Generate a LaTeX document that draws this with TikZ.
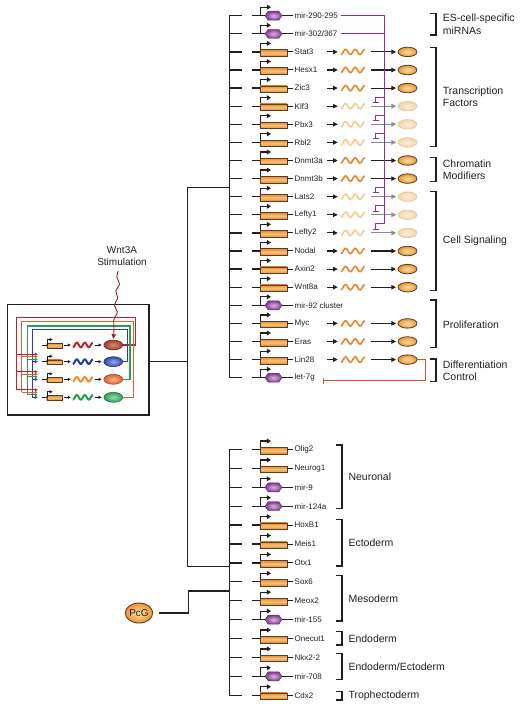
\documentclass[tikz,border=0pt]{standalone}
\usepackage{fontspec}
\setmainfont{Liberation Sans}
\usetikzlibrary{arrows.meta,shapes.symbols,shapes.geometric}

\definecolor{ink}{HTML}{231F20}
\definecolor{gOr}{HTML}{E98A2C}
\definecolor{gOrL}{HTML}{F9C27A}
\definecolor{gEdge}{HTML}{5A3E22}
\definecolor{mirP}{HTML}{7E3A8E}
\definecolor{mirPL}{HTML}{D9B6E2}
\definecolor{mirLine}{HTML}{A8287E}
\definecolor{waveOr}{HTML}{E8842A}
\definecolor{wavePale}{HTML}{F5C994}
\definecolor{protOr}{HTML}{EB9330}
\definecolor{protOrL}{HTML}{FDE2A8}
\definecolor{protEdge}{HTML}{55412F}
\definecolor{paleFill}{HTML}{F5D3A6}
\definecolor{paleFillL}{HTML}{FCF0DC}
\definecolor{paleEdge}{HTML}{E3C49C}
\definecolor{grayArr}{HTML}{8C8C8C}
\definecolor{inhRed}{HTML}{E8462A}
\definecolor{wRed}{HTML}{B02828}
\definecolor{wBlue}{HTML}{2838A0}
\definecolor{wOr}{HTML}{E8922A}
\definecolor{wGreen}{HTML}{1FA048}
\definecolor{eRed}{HTML}{9E3B2C}
\definecolor{eRedL}{HTML}{DD8A78}
\definecolor{eBlue}{HTML}{2B4BA8}
\definecolor{eBlueL}{HTML}{9AAAE8}
\definecolor{eOr}{HTML}{D9622B}
\definecolor{eOrL}{HTML}{F6B090}
\definecolor{eGreen}{HTML}{2E9E5A}
\definecolor{eGreenL}{HTML}{98DCB0}
\definecolor{lRed}{HTML}{BE1E2D}
\definecolor{lOr}{HTML}{EF5A2A}
\definecolor{lGreen}{HTML}{22A24B}
\definecolor{lBlue}{HTML}{393B97}
\definecolor{squig}{HTML}{9B1F24}

\begin{document}
\begin{tikzpicture}[x=1pt,y=-1pt,
  tree/.style={draw=ink, line width=1.3pt},
  genebox/.style={rectangle, draw=gEdge, line width=0.5pt, top color=gOr, bottom color=gOr, middle color=gOrL, minimum width=27pt, minimum height=6.5pt, inner sep=0},
  mirhex/.style={signal, signal to=east and west, signal pointer angle=110, draw=mirP!75!black, line width=0.4pt, inner color=mirPL, outer color=mirP, minimum width=17pt, minimum height=9pt, inner sep=0},
  wavebox/.style={minimum width=24pt, minimum height=7pt, inner sep=0},
  swavebox/.style={minimum width=20pt, minimum height=7pt, inner sep=0},
  protein/.style={ellipse, draw=protEdge, line width=0.8pt, inner color=protOrL, outer color=protOr, minimum width=19pt, minimum height=9.5pt, inner sep=0},
  paleprot/.style={ellipse, draw=paleEdge, line width=0.6pt, inner color=paleFillL, outer color=paleFill, minimum width=19pt, minimum height=9.5pt, inner sep=0},
  glabel/.style={font=\fontsize{8}{9.6}\selectfont, text=ink, inner sep=0, anchor=west},
  blabel/.style={font=\fontsize{10.5}{12.4}\selectfont, text=ink, inner sep=0, anchor=west, align=left},
  arr/.style={draw=ink, line width=1.1pt, -{Triangle[length=4.8pt,width=4.5pt]}},
  grayarr/.style={draw=grayArr, line width=1.1pt, -{Triangle[length=4.8pt,width=4.5pt]}},
  prom/.style={draw=ink, line width=1.2pt, -{Triangle[length=4.2pt,width=4.8pt]}},
  bracket/.style={draw=ink, line width=1.2pt},
  mirline/.style={draw=mirLine, line width=1pt},
  hook/.style={draw=mirLine, line width=1pt, -{Bar[width=6pt,line width=1pt]}},
  inh/.style={draw=inhRed, line width=1.1pt, -{Bar[width=6pt,line width=1.1pt]}},
  smallbox/.style={rectangle, draw=gEdge, line width=0.4pt, top color=gOr, bottom color=gOr, middle color=gOrL, minimum width=15pt, minimum height=4.5pt, inner sep=0},
  smallarr/.style={draw=ink, line width=0.7pt, -{Triangle[length=3pt,width=3pt]}},
  smallprom/.style={draw=ink, line width=0.8pt, -{Triangle[length=3pt,width=3pt]}},
  loopline/.style={line width=1.1pt},
  looparr/.style={line width=1.1pt, -{Triangle[length=3pt,width=3pt]}},
]
\useasboundingbox (0,0) rectangle (521,708);

% ---------------- all gene rows ----------------
\foreach \n/\y/\lab in {mirA/15.7/mir-290-295, mirB/33.8/{mir-302{/}367}, Stat3/51.9/Stat3, Hesx1/70.0/Hesx1, Zic3/88.1/Zic3, Klf3/106.2/Klf3, Pbx3/124.3/Pbx3, Rbl2/142.4/Rbl2, Dnmt3a/160.5/Dnmt3a, Dnmt3b/178.6/Dnmt3b, Lats2/196.7/Lats2, Lefty1/214.8/Lefty1, Lefty2/232.9/Lefty2, Nodal/251.0/Nodal, Axin2/269.1/Axin2, Wnt8a/287.2/Wnt8a, mirC/305.3/mir-92 cluster, Myc/323.4/Myc, Eras/341.5/Eras, Lin28/359.6/Lin28, let7g/377.7/let-7g,
  Olig2/449.5/Olig2, Neurog1/468.4/Neurog1, mir9/487.3/mir-9, mir124a/506.2/mir-124a, HoxB1/525.1/HoxB1, Meis1/544.0/Meis1, Otx1/562.9/Otx1, Sox6/581.8/Sox6, Meox2/600.7/Meox2, mir155/619.6/mir-155, Onecut1/638.5/Onecut1, Nkx22/657.4/Nkx2-2, mir708/676.3/mir-708, Cdx2/695.2/Cdx2}{
  \coordinate (\n-b) at (229.3,\y);
  \coordinate (\n-k) at (242,\y);
  \coordinate (\n-s) at (252,\y);
  \node[glabel] (\n-l) at (294.5,\y) {\lab};
  \draw[tree] (\n-b) -- (\n-k);
  \draw[prom] (\n-s) ++(8.5,0) -- ++(0,-8.5) -- ++(10.5,0);
}

% gene boxes
\foreach \n/\y in {Stat3/51.9, Hesx1/70.0, Zic3/88.1, Klf3/106.2, Pbx3/124.3, Rbl2/142.4, Dnmt3a/160.5, Dnmt3b/178.6, Lats2/196.7, Lefty1/214.8, Lefty2/232.9, Nodal/251.0, Axin2/269.1, Wnt8a/287.2, Myc/323.4, Eras/341.5, Lin28/359.6,
  Olig2/449.5, Neurog1/468.4, HoxB1/525.1, Meis1/544.0, Otx1/562.9, Sox6/581.8, Meox2/600.7, Onecut1/638.5, Nkx22/657.4, Cdx2/695.2}{
  \node[genebox] (\n-g) at (273.5,\y+1) {};
  \draw[tree] (\n-s) -- (\n-g.west |- \n-s);
  \draw[tree, line width=1pt, shorten >=1.5pt] (\n-g.east |- \n-s) -- (\n-l.west);
}

% microRNA hexagons
\foreach \n/\y in {mirA/15.7, mirB/33.8, mirC/305.3, let7g/377.7, mir9/487.3, mir124a/506.2, mir155/619.6, mir708/676.3}{
  \node[mirhex] (\n-g) at (273.5,\y) {};
  \draw[tree] (\n-s) -- (\n-g.west);
  \draw[tree, line width=1pt, shorten >=1.5pt] (\n-g.east) -- (\n-l.west);
}

% active expression chains
\foreach \n/\y in {Stat3/51.9, Hesx1/70.0, Zic3/88.1, Dnmt3a/160.5, Dnmt3b/178.6, Nodal/251.0, Axin2/269.1, Wnt8a/287.2, Myc/323.4, Eras/341.5, Lin28/359.6}{
  \coordinate (\n-a) at (327,\y);
  \node[wavebox] (\n-w) at (353,\y) {};
  \draw[waveOr, line width=1.6pt, shift={(\n-w.west)}] plot[domain=0:24, samples=49, smooth] (\x,{2.6*cos(\x*37.5)});
  \node[protein] (\n-p) at (407.5,\y) {};
  \draw[arr, shorten >=3pt] (\n-a) -- (\n-w);
  \draw[arr, shorten <=6pt, shorten >=1.5pt] (\n-w) -- (\n-p);
}

% repressed expression chains
\foreach \n/\y in {Klf3/106.2, Pbx3/124.3, Rbl2/142.4, Lats2/196.7, Lefty1/214.8, Lefty2/232.9}{
  \coordinate (\n-a) at (327,\y);
  \node[wavebox] (\n-w) at (353,\y) {};
  \draw[wavePale, line width=1.6pt, shift={(\n-w.west)}] plot[domain=0:24, samples=49, smooth] (\x,{2.6*cos(\x*37.5)});
  \node[paleprot] (\n-p) at (407.5,\y) {};
  \draw[arr, shorten >=3pt] (\n-a) -- (\n-w);
  \draw[grayarr, shorten <=6pt, shorten >=1.5pt] (\n-w) -- (\n-p);
  \coordinate (\n-h) at (384,\y-9);
  \draw[hook] (\n-h) -- ++(-8.5,0) -- ++(0,5.8);
}

% miRNA repression lines
\coordinate (mvtop) at (384,15.7);
\coordinate (mvbot) at (384,223.9);
\draw[mirline, shorten <=3pt] (mirA-l.east) -- (mvtop) -- (mvbot);
\draw[mirline, shorten <=3pt] (mirB-l.east) -- (mirB-l.east -| mvtop);

% Lin28 -| let-7g
\coordinate (letinh) at (323.3,380.5);
\draw[inh] (Lin28-p.east) -- ++(8.5,0) |- (letinh);

% ---------------- buses and tree ----------------
\draw[tree] (mirA-b) -- (let7g-b);
\draw[tree] (Olig2-b) -- (Cdx2-b);
\coordinate (tjoin) at (229.3,187.7);
\coordinate (ctop) at (187.7,187.7);
\coordinate (cmid) at (187.7,361.7);
\coordinate (cbot) at (187.7,566.7);
\coordinate (bjoin) at (229.3,566.7);
\draw[tree] (tjoin) -- (ctop) -- (cbot) -- (bjoin);

% ---------------- PcG ----------------
\node[ellipse, draw=protEdge, line width=0.9pt, inner color=protOrL, outer color=protOr, minimum width=26pt, minimum height=20pt, inner sep=0, font=\fontsize{10}{12}\selectfont, text=ink] (pcg) at (139,613) {PcG};
\coordinate (p1) at (188.3,613);
\coordinate (p2) at (188.3,591);
\coordinate (p3) at (229.3,591);
\draw[tree, shorten <=6pt] (pcg.east) -- (p1) -- (p2) -- (p3);

% ---------------- brackets ----------------
\foreach \t/\b in {13.3/35, 47.7/146.7, 157.5/181.5, 191.7/290.7, 300/347.3, 359/381.7}{
  \draw[bracket] (430,\t) -- (436,\t) -- (436,\b) -- (430,\b);
}
\node[blabel] (bES) at (442.7,24.3) {ES-cell-specific\\miRNAs};
\node[blabel] (bTF) at (442.7,96.5) {Transcription\\Factors};
\node[blabel] (bCM) at (442.7,169.5) {Chromatin\\Modifiers};
\node[blabel] (bCS) at (442.7,241.2) {Cell Signaling};
\node[blabel] (bPR) at (442.7,324.5) {Proliferation};
\node[blabel] (bDC) at (442.7,371) {Differentiation\\Control};

\foreach \t/\b in {445/508.3, 519.3/566, 575.7/621, 631.7/645, 653.3/679.3, 691.7/700}{
  \draw[bracket] (336,\t) -- (342,\t) -- (342,\b) -- (336,\b);
}
\node[blabel] (bNE) at (348.3,476.7) {Neuronal};
\node[blabel] (bEC) at (348.3,542.7) {Ectoderm};
\node[blabel] (bME) at (348.3,598.4) {Mesoderm};
\node[blabel] (bEN) at (348.3,638.4) {Endoderm};
\node[blabel] (bEE) at (348.3,666.3) {Endoderm/Ectoderm};
\node[blabel] (bTR) at (348.3,695.9) {Trophectoderm};

% ---------------- inset ----------------
\node[draw=ink, line width=1.3pt, minimum width=141.7pt, minimum height=110.7pt, inner sep=0] (inset) at (78.15,359.65) {};
\draw[tree] (inset.east |- cmid) -- (cmid);

\foreach \n/\y/\wc/\ec/\el in {r1/345/wRed/eRed/eRedL, r2/361.7/wBlue/eBlue/eBlueL, r3/379.3/wOr/eOr/eOrL, r4/397.3/wGreen/eGreen/eGreenL}{
  \coordinate (\n-s) at (41.7,\y);
  \node[smallbox] (\n-g) at (54.2,\y+0.5) {};
  \draw[draw=ink, line width=0.8pt] (\n-s) -- (\n-g.west |- \n-s);
  \draw[smallprom] (\n-s) ++(5.5,0) -- ++(0,-5.5) -- ++(5.5,0);
  \coordinate (\n-a) at (63.5,\y);
  \node[swavebox] (\n-w) at (83,\y) {};
  \draw[\wc, line width=2pt, shift={(\n-w.west)}] plot[domain=0:20, samples=41, smooth] (\x,{2.3*cos(\x*45)});
  \node[ellipse, draw=\ec!70!black, line width=0.5pt, inner color=\el, outer color=\ec, minimum width=19pt, minimum height=10pt, inner sep=0] (\n-e) at (113.3,\y) {};
  \draw[smallarr, shorten >=2pt] (\n-a) -- (\n-w);
  \draw[smallarr, shorten <=2pt, shorten >=2pt] (\n-w) -- (\n-e);
}

% feedback loops
\coordinate (lR1) at (135.7,317.3); \coordinate (lR2) at (16.7,317.3); \coordinate (lR3) at (16.7,390);
\coordinate (lB1) at (127.7,329.3); \coordinate (lB2) at (32.3,329.3); \coordinate (lB3) at (32.3,397.3);
\coordinate (lG1) at (130,326);     \coordinate (lG2) at (27.7,326);   \coordinate (lG3) at (27.7,394.8);
\coordinate (lO1) at (133.3,321.7); \coordinate (lO2) at (21.7,321.7); \coordinate (lO3) at (21.7,392.3);
\draw[loopline, lRed] (r1-e.east) -| (lR1) -- (lR2) -- (lR3);
\draw[loopline, lBlue] (r2-e.east) -| (lB1) -- (lB2) -- (lB3);
\draw[loopline, lGreen] (r3-e.east) -| (lG1) -- (lG2) -- (lG3);
\draw[loopline, lOr] (r4-e.east) -| (lO1) -- (lO2) -- (lO3);
\foreach \n/\y in {r2/361.7, r3/379.3, r4/397.3}{
  \coordinate (\n-iR) at (37.8,\y-7.5);
  \coordinate (\n-iO) at (37.8,\y-5);
  \coordinate (\n-iG) at (37.8,\y-2.5);
  \coordinate (\n-iB) at (37.8,\y);
  \draw[looparr, lRed] (lR2 |- \n-iR) -- (\n-iR);
  \draw[looparr, lOr] (lO2 |- \n-iO) -- (\n-iO);
  \draw[looparr, lGreen] (lG2 |- \n-iG) -- (\n-iG);
  \draw[looparr, lBlue] (lB2 |- \n-iB) -- (\n-iB);
}

% Wnt3A stimulation
\node[font=\fontsize{10}{12}\selectfont, text=ink, align=center, inner sep=0] (wnt) at (122,256) {Wnt3A\\Stimulation};
\draw[squig, line width=0.9pt, -{Triangle[length=4.5pt,width=4.5pt]}, shorten >=1pt] plot[smooth, tension=0.6] coordinates {(118.3,271) (116.8,277) (119.5,284) (115.8,291) (117.8,298) (114.3,305) (117.3,312) (113.8,320) (114,328) (r1-e.north)};

\end{tikzpicture}
\end{document}
